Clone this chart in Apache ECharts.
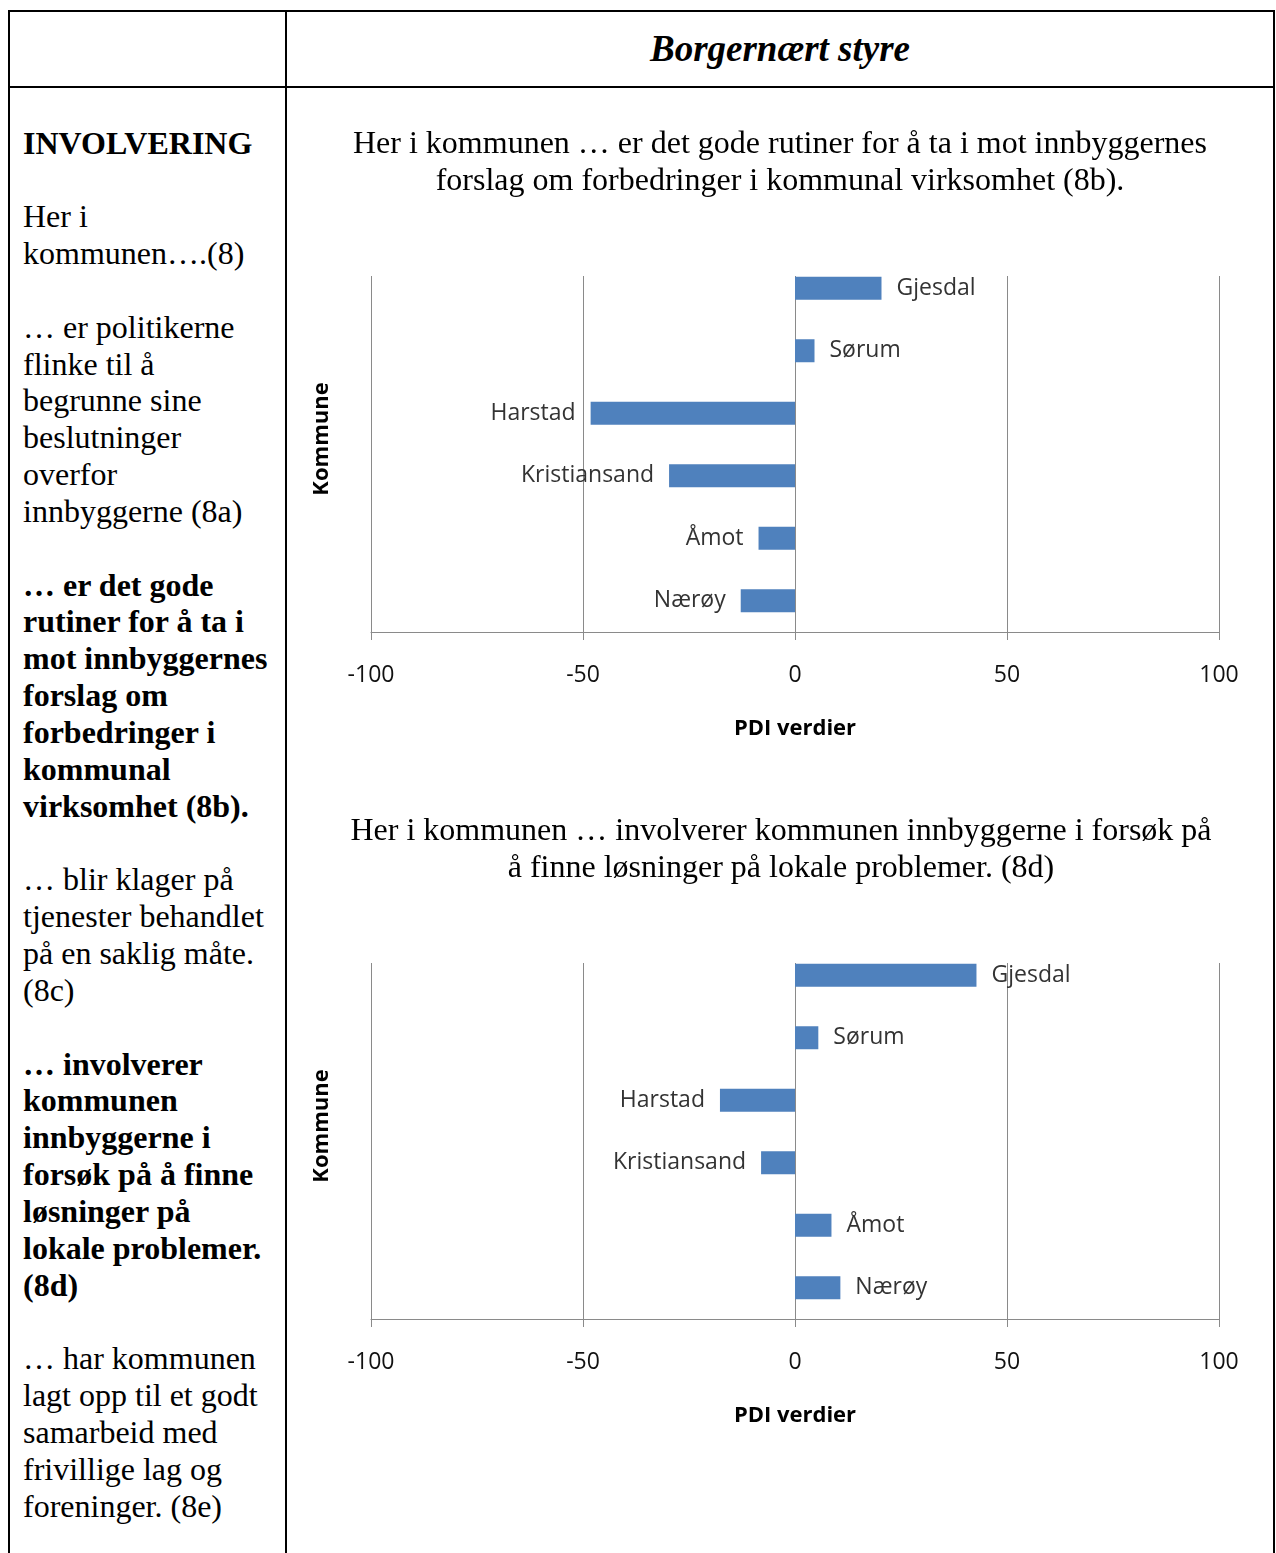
<!DOCTYPE html>
<html>
<head>
<meta charset="utf-8">
<script src="https://cdn.jsdelivr.net/npm/echarts@6/dist/echarts.min.js"></script>
<style>
  html, body { margin: 0; padding: 0; background: #fff; }
  body { width: 1276px; height: 1553px; position: relative; overflow: hidden; }
  .ln { position: absolute; background: #000; }
  .head {
    position: absolute; left: 287px; width: 986px; top: 29px;
    text-align: center; font: italic bold 37px/40px "Liberation Serif", serif;
  }
  .side {
    position: absolute; left: 23px; top: 124.5px; white-space: nowrap;
    font: 32px/36.84px "Liberation Serif", serif; color: #000;
  }
  .side p { margin: 0 0 36.84px 0; }
  .side b { font-weight: bold; }
  #chart { position: absolute; left: 0; top: 0; width: 1276px; height: 1553px; }
</style>
</head>
<body>
  <!-- tabell -->
  <div class="ln" style="left:8px;top:10px;width:1267px;height:2px"></div>
  <div class="ln" style="left:8px;top:86px;width:1267px;height:2px"></div>
  <div class="ln" style="left:8px;top:10px;width:2px;height:1543px"></div>
  <div class="ln" style="left:285px;top:10px;width:2px;height:1543px"></div>
  <div class="ln" style="left:1273px;top:10px;width:2px;height:1543px"></div>

  <div class="head">Borgernært styre</div>

  <div class="side">
    <p><b>INVOLVERING</b></p>
    <p>Her i<br>kommunen….(8)</p>
    <p>… er politikerne<br>flinke til å<br>begrunne sine<br>beslutninger<br>overfor<br>innbyggerne (8a)</p>
    <p><b>… er det gode<br>rutiner for å ta i<br>mot innbyggernes<br>forslag om<br>forbedringer i<br>kommunal<br>virksomhet (8b).</b></p>
    <p>… blir klager på<br>tjenester behandlet<br>på en saklig måte.<br>(8c)</p>
    <p><b>… involverer<br>kommunen<br>innbyggerne i<br>forsøk på å finne<br>løsninger på<br>lokale problemer.<br>(8d)</b></p>
    <p>… har kommunen<br>lagt opp til et godt<br>samarbeid med<br>frivillige lag og<br>foreninger. (8e)</p>
  </div>

  <div id="chart"></div>

<script>
  // kommuner, ovenfra og ned
  var kommuner = ['Gjesdal', 'Sørum', 'Harstad', 'Kristiansand', 'Åmot', 'Nærøy']
  // PDI verdier (8b) og (8d)
  var verdier8b = [20.4, 4.6, -48.2, -29.7, -8.6, -12.8]
  var verdier8d = [42.8, 5.5, -17.7, -8.0, 8.6, 10.7]
  var ticks = [-100, -50, 0, 50, 100]

  var tittel8b = 'Her i kommunen … er det gode rutiner for å ta i mot innbyggernes\nforslag om forbedringer i kommunal virksomhet (8b).'
  var tittel8d = 'Her i kommunen … involverer kommunen innbyggerne i forsøk på\nå finne løsninger på lokale problemer. (8d)'

  var chart = echarts.init(document.getElementById('chart'))

  var blaa = '#4F81BD'
  var grått = '#8a8a8a'
  var sans = '"Open Sans", "Noto Sans", sans-serif'

  function bars(vals) {
    return vals.map(function (v) {
      return { value: v, label: { position: v < 0 ? 'left' : 'right' } }
    })
  }

  // one chart block = bar grid (top cut away like the source) + frame grid
  function blokk(i, top) {
    var a = i * 2
    var b = i * 2 + 1
    return {
      grids: [
        { left: 371, width: 848, top: top - 19, height: 375, outerBoundsMode: 'none' },
        { left: 371, width: 848, top: top, height: 356, outerBoundsMode: 'none' },
      ],
      xAxis: [
        { gridIndex: a, type: 'value', min: ticks[0], max: ticks[ticks.length - 1], show: false },
        {
          gridIndex: b,
          type: 'value',
          min: ticks[0],
          max: ticks[ticks.length - 1],
          interval: 50,
          axisLine: { show: true, onZero: false, lineStyle: { color: grått } },
          axisTick: { show: true, length: 8, lineStyle: { color: grått } },
          axisLabel: { margin: 32, fontSize: 23, fontFamily: sans, color: '#111' },
          splitLine: { show: true, lineStyle: { color: grått } },
          name: 'PDI verdier',
          nameLocation: 'middle',
          nameGap: 86,
          nameTextStyle: { fontSize: 22, fontWeight: 'bold', fontFamily: sans, color: '#000' },
        },
      ],
      yAxis: [
        {
          gridIndex: a,
          type: 'category',
          inverse: true,
          data: kommuner,
          axisLine: { show: false },
          axisTick: { show: false },
          axisLabel: { show: false },
          splitLine: { show: false },
          name: 'Kommune',
          nameLocation: 'middle',
          nameGap: 38,
          nameTextStyle: { fontSize: 22, fontWeight: 'bold', fontFamily: sans, color: '#000', padding: [0, 0, 0, 11] },
        },
        { gridIndex: b, type: 'value', min: 0, max: 1, show: false },
      ],
    }
  }

  var b1 = blokk(0, 276)
  var b2 = blokk(1, 963)

  function serie(idx, vals) {
    return {
      type: 'bar',
      xAxisIndex: idx,
      yAxisIndex: idx,
      barWidth: 23,
      silent: true,
      itemStyle: { color: blaa },
      label: {
        show: true,
        formatter: '{b}',
        distance: 15,
        fontSize: 23,
        fontFamily: sans,
        color: '#333',
      },
      data: bars(vals),
    }
  }

  var titleStyle = { fontFamily: '"Liberation Serif", serif', fontSize: 32, lineHeight: 37, fontWeight: 'normal', color: '#000' }

  var option = {
    animation: false,
    backgroundColor: 'transparent',
    title: [
      { text: tittel8b, left: 780, top: 126.5, textAlign: 'center', padding: 0, textStyle: titleStyle },
      { text: tittel8d, left: 781, top: 813.5, textAlign: 'center', padding: 0, textStyle: titleStyle },
    ],
    grid: b1.grids.concat(b2.grids),
    xAxis: b1.xAxis.concat(b2.xAxis),
    yAxis: b1.yAxis.concat(b2.yAxis),
    series: [serie(0, verdier8b), serie(2, verdier8d)],
  }
  chart.setOption(option)
</script>
</body>
</html>
